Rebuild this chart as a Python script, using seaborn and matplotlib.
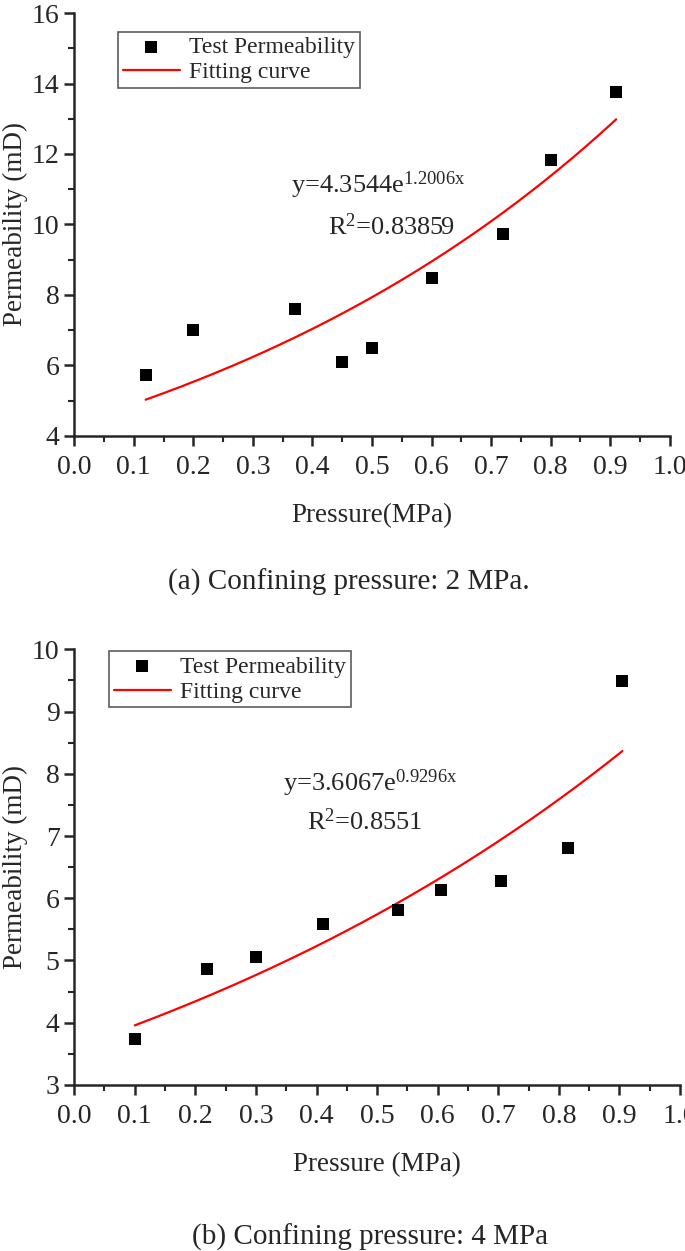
import matplotlib
matplotlib.use("Agg")
import matplotlib.pyplot as plt
from matplotlib.ticker import MultipleLocator
import numpy as np
import pandas as pd
import seaborn as sns

# panel (a): confining pressure 2 MPa
pressure_a = [0.12, 0.20, 0.37, 0.45, 0.50, 0.60, 0.72, 0.80, 0.91]
perm_a = [5.73, 7.00, 7.61, 6.10, 6.51, 8.48, 9.74, 11.84, 13.77]
fit_a = (4.3544, 1.2006)
eq_a = "y=4.3544e$^{1.2006x}$"
r2_a = "R$^{2}$=0.83859"

# panel (b): confining pressure 4 MPa
pressure_b = [0.10, 0.22, 0.30, 0.41, 0.535, 0.605, 0.705, 0.815, 0.905]
perm_b = [3.74, 4.86, 5.05, 5.59, 5.81, 6.13, 6.27, 6.80, 9.49]
fit_b = (3.6067, 0.9296)
eq_b = "y=3.6067e$^{0.9296x}$"
r2_b = "R$^{2}$=0.8551"

sns.set_style("ticks")
plt.rcParams["font.family"] = ["Liberation Serif", "DejaVu Serif"]
plt.rcParams["mathtext.fontset"] = "custom"
plt.rcParams["mathtext.rm"] = "Liberation Serif"
plt.rcParams["mathtext.it"] = "Liberation Serif"


def panel(ax, x, y, fit, eq, r2, ylim, ymajor, xlabel, eq_pos, r2_pos, leg_anchor):
    df = pd.DataFrame({"Pressure": x, "Permeability": y})
    xs = np.linspace(min(x), max(x), 200)
    curve = pd.DataFrame({"Pressure": xs, "Permeability": fit[0] * np.exp(fit[1] * xs)})
    sns.scatterplot(data=df, x="Pressure", y="Permeability", ax=ax, marker="s",
                    s=70, color="black", edgecolor="black", linewidth=0,
                    label="Test Permeability", zorder=3)
    sns.lineplot(data=curve, x="Pressure", y="Permeability", ax=ax, color="red",
                 linewidth=1.6, label="Fitting curve", zorder=2)
    ax.set_xlim(0, 1.0)
    ax.set_ylim(*ylim)
    ax.xaxis.set_major_locator(MultipleLocator(0.1))
    ax.xaxis.set_minor_locator(MultipleLocator(0.05))
    ax.yaxis.set_major_locator(MultipleLocator(ymajor))
    ax.yaxis.set_minor_locator(MultipleLocator(ymajor / 2))
    ax.xaxis.set_major_formatter(plt.FormatStrFormatter("%.1f"))
    for s in ["top", "right"]:
        ax.spines[s].set_visible(False)
    for s in ["left", "bottom"]:
        ax.spines[s].set_linewidth(1.8)
    ax.tick_params(which="major", direction="out", length=7, width=1.8, labelsize=20)
    ax.tick_params(axis="x", which="major", pad=7)
    ax.tick_params(which="minor", direction="out", length=4, width=1.5)
    ax.set_xlabel(xlabel, fontsize=19.5, labelpad=16)
    ax.set_ylabel("Permeability (mD)", fontsize=19.5, labelpad=3)
    ax.text(eq_pos[0], eq_pos[1], eq, fontsize=19)
    ax.text(r2_pos[0], r2_pos[1], r2, fontsize=19)
    leg = ax.legend(loc="upper left", bbox_to_anchor=leg_anchor, fontsize=17,
                    frameon=True, fancybox=False, edgecolor="#333333",
                    handlelength=2.4, borderpad=0.2, labelspacing=0.15,
                    handletextpad=0.4, borderaxespad=0)
    leg.get_frame().set_linewidth(1.2)


fig = plt.figure(figsize=(6.85, 12.51), dpi=100)
ax1 = fig.add_axes([0.1083, 0.6515, 0.8695, 0.3381])
ax2 = fig.add_axes([0.1083, 0.1327, 0.8844, 0.3483])

panel(ax1, pressure_a, perm_a, fit_a, eq_a, r2_a, (4, 16), 2, "Pressure(MPa)",
      (0.364, 10.9), (0.426, 9.7), (0.074, 0.955))
panel(ax2, pressure_b, perm_b, fit_b, eq_b, r2_b, (3, 10), 1, "Pressure (MPa)",
      (0.345, 7.72), (0.384, 7.10), (0.058, 0.995))

fig.text(0.509, 1 - 582 / 1251, "(a) Confining pressure: 2 MPa.", fontsize=21,
         ha="center", va="center")
fig.text(0.540, 1 - 1237 / 1251, "(b) Confining pressure: 4 MPa", fontsize=21,
         ha="center", va="center")

fig.savefig("out.png", dpi=100)
